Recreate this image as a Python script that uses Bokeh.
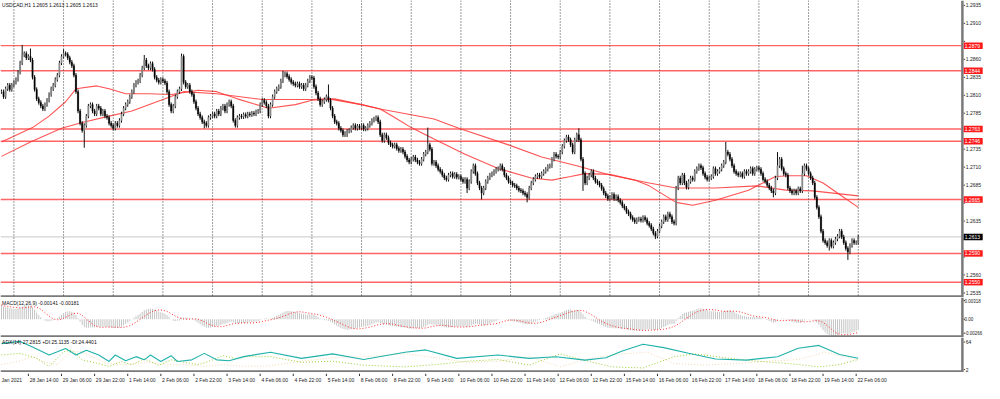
import numpy as np
from bokeh.plotting import figure
from bokeh.layouts import column
from bokeh.models import Range1d, Span, ColumnDataSource
from bokeh.embed import file_html
from bokeh.resources import INLINE
from bokeh.core.properties import value

TITLE = "USDCAD,H1  1.2605 1.2613 1.2605 1.2613"
MACD_TITLE = "MACD(12,26,9) -0.00141 -0.00181"
ADX_TITLE = "ADX(14) 27.2815 +DI:25.1135 -DI:24.4401"

CLOSE = [
    1.2815, 1.2808, 1.2819, 1.2824, 1.2818, 1.2824, 1.2828, 1.2832, 1.2842, 1.2855,
    1.2866, 1.2868, 1.2862, 1.2864, 1.2859, 1.2835, 1.2818, 1.2805, 1.2800, 1.2795,
    1.2791, 1.2797, 1.2803, 1.2811, 1.2819, 1.2824, 1.2832, 1.2838, 1.2855, 1.2864,
    1.2868, 1.2867, 1.2862, 1.2856, 1.2851, 1.2838, 1.2815, 1.2788, 1.2771, 1.2761,
    1.2768, 1.2781, 1.2795, 1.2797, 1.2788, 1.2784, 1.2795, 1.2792, 1.2784, 1.2788,
    1.2781, 1.2779, 1.2771, 1.2768, 1.2764, 1.2771, 1.2768, 1.2775, 1.2784, 1.2792,
    1.2797, 1.2801, 1.2808, 1.2815, 1.2824, 1.2828, 1.2830, 1.2838, 1.2848, 1.2859,
    1.2851, 1.2848, 1.2854, 1.2846, 1.2835, 1.2831, 1.2828, 1.2832, 1.2830, 1.2827,
    1.2815, 1.2797, 1.2788, 1.2795, 1.2808, 1.2815, 1.2819, 1.2864, 1.2828, 1.2822,
    1.2824, 1.2815, 1.2811, 1.2801, 1.2792, 1.2784, 1.2779, 1.2773, 1.2771, 1.2768,
    1.2779, 1.2781, 1.2784, 1.2781, 1.2788,
    1.2784, 1.2792, 1.2795, 1.2788, 1.2797, 1.2801, 1.2795, 1.2775, 1.2768, 1.2779,
    1.2781, 1.2780, 1.2783, 1.2781, 1.2784, 1.2783, 1.2785, 1.2784, 1.2787, 1.2788,
    1.2797, 1.2803, 1.2800, 1.2795, 1.2781, 1.2797, 1.2808, 1.2815, 1.2819, 1.2822,
    1.2830, 1.2838, 1.2840, 1.2836, 1.2832, 1.2828, 1.2826, 1.2824, 1.2826, 1.2822,
    1.2824, 1.2819, 1.2824, 1.2830, 1.2835, 1.2834, 1.2822, 1.2813, 1.2805, 1.2797,
    1.2801, 1.2804, 1.2808, 1.2803, 1.2792, 1.2781, 1.2773, 1.2771, 1.2764, 1.2761,
    1.2755, 1.2757, 1.2760, 1.2761, 1.2765, 1.2768, 1.2764, 1.2767, 1.2765, 1.2768,
    1.2763, 1.2764, 1.2768, 1.2771, 1.2775, 1.2777, 1.2779, 1.2773, 1.2755, 1.2747,
    1.2755, 1.2751, 1.2744, 1.2741, 1.2739, 1.2741, 1.2736, 1.2733, 1.2735, 1.2731,
    1.2725, 1.2720, 1.2717, 1.2721, 1.2724, 1.2720, 1.2717, 1.2715, 1.2721, 1.2728,
    1.2731, 1.2741, 1.2735, 1.2715,
    1.2717, 1.2712, 1.2707, 1.2704, 1.2699, 1.2695, 1.2693, 1.2699, 1.2701, 1.2697,
    1.2700, 1.2696, 1.2697, 1.2693, 1.2690, 1.2693, 1.2681, 1.2690, 1.2704, 1.2712,
    1.2701, 1.2688, 1.2681, 1.2674, 1.2681, 1.2690, 1.2695, 1.2699, 1.2701, 1.2704,
    1.2707, 1.2708, 1.2712, 1.2707, 1.2699, 1.2695, 1.2690, 1.2688, 1.2685, 1.2684,
    1.2681, 1.2678, 1.2677, 1.2674, 1.2672, 1.2668, 1.2681, 1.2688, 1.2693, 1.2697,
    1.2699, 1.2697, 1.2701, 1.2704, 1.2707, 1.2711, 1.2712, 1.2721, 1.2728, 1.2725,
    1.2724, 1.2731, 1.2739, 1.2747, 1.2752, 1.2748, 1.2741, 1.2731, 1.2748, 1.2755,
    1.2748, 1.2721, 1.2701, 1.2688, 1.2695, 1.2699, 1.2704, 1.2695, 1.2690, 1.2688,
    1.2685, 1.2680, 1.2674, 1.2670, 1.2666, 1.2668, 1.2672, 1.2666, 1.2669, 1.2664,
    1.2661, 1.2656, 1.2653, 1.2648, 1.2645, 1.2640, 1.2637, 1.2634, 1.2637, 1.2638,
    1.2636, 1.2640, 1.2637, 1.2632, 1.2629,
    1.2624, 1.2618, 1.2614, 1.2621, 1.2628, 1.2634, 1.2641, 1.2637, 1.2645, 1.2641,
    1.2634, 1.2632, 1.2681, 1.2695, 1.2688, 1.2699, 1.2688, 1.2682, 1.2690, 1.2695,
    1.2693, 1.2704, 1.2708, 1.2712, 1.2709, 1.2701, 1.2696, 1.2693, 1.2695, 1.2697,
    1.2708, 1.2701, 1.2704, 1.2707, 1.2712, 1.2717, 1.2731, 1.2728, 1.2721, 1.2712,
    1.2704, 1.2701, 1.2699, 1.2701, 1.2697, 1.2704, 1.2701, 1.2704, 1.2708, 1.2701,
    1.2707, 1.2709, 1.2707, 1.2701, 1.2693, 1.2690, 1.2685, 1.2681, 1.2677, 1.2674,
    1.2695, 1.2712, 1.2721, 1.2708, 1.2701, 1.2699, 1.2681, 1.2677, 1.2674, 1.2677,
    1.2674, 1.2680, 1.2677, 1.2701, 1.2712, 1.2708, 1.2701, 1.2695, 1.2688, 1.2668,
    1.2654, 1.2641, 1.2621, 1.2608, 1.2605, 1.2601, 1.2608, 1.2600, 1.2605, 1.2610,
    1.2614, 1.2621, 1.2613, 1.2605, 1.2597, 1.2592, 1.2601, 1.2608, 1.2605, 1.2605,
    1.2613,
]
HIGH_SPIKES = {10: 1.2880, 14: 1.2875, 30: 1.2874, 69: 1.2866, 87: 1.2868, 136: 1.2844,
               158: 1.2825, 206: 1.2765, 279: 1.2764, 350: 1.2745, 375: 1.2731, 387: 1.2712}
LOW_SPIKES = {40: 1.2737, 98: 1.2764, 167: 1.2752, 225: 1.2674, 232: 1.2665, 254: 1.2661,
              281: 1.2677, 316: 1.2610, 373: 1.2668, 400: 1.2594, 409: 1.2581}
WICK = 0.0003

LEVELS = [1.2879, 1.2844, 1.2763, 1.2746, 1.2665, 1.2590, 1.2550]
LEVEL_TEXT = ["1.2879", "1.2844", "1.2763", "1.2746", "1.2665", "1.2590", "1.2550"]
BID = 1.2613
BID_TEXT = "1.2613"

PRICE_TICKS = [1.2935, 1.2910, 1.2885, 1.2860, 1.2835, 1.2810, 1.2785, 1.2760, 1.2735,
               1.2710, 1.2685, 1.2660, 1.2635, 1.2610, 1.2585, 1.2560, 1.2535]
PRICE_TICK_TEXT = ["1.2935", "1.2910", "", "1.2860", "1.2835", "1.2810", "1.2785", "", "1.2735",
                   "1.2710", "1.2685", "", "1.2635", "", "", "1.2560", "1.2535"]

MA_FAST_BAR = [0, 15, 23, 31, 36, 46, 52, 60, 71, 82, 95, 104, 114, 129, 142, 150, 161, 174, 183,
               190, 198, 209, 224, 240, 256, 266, 275, 282, 294, 306, 313, 326, 334, 345, 361,
               374, 381, 389, 397, 405, 414]
MA_FAST = [1.2745, 1.2765, 1.2781, 1.2801, 1.2819, 1.2823, 1.2819, 1.2812, 1.2812, 1.2811,
           1.2817, 1.2815, 1.2805, 1.2792, 1.2797, 1.2803, 1.2805, 1.2797, 1.2791, 1.2779,
           1.2765, 1.2749, 1.2728, 1.2708, 1.2695, 1.2692, 1.2697, 1.2701, 1.2700, 1.2692,
           1.2684, 1.2661, 1.2657, 1.2664, 1.2678, 1.2697, 1.2698, 1.2698, 1.2688, 1.2672,
           1.2654]
MA_SLOW_BAR = [0, 14, 29, 39, 52, 63, 79, 88, 104, 126, 150, 158, 174, 183, 198, 209, 221, 245,
               261, 278, 294, 313, 326, 345, 365, 379, 392, 414]
MA_SLOW = [1.2725, 1.2745, 1.2764, 1.2772, 1.2781, 1.2788, 1.2805, 1.2815, 1.2812, 1.2804,
           1.2804, 1.2805, 1.2797, 1.2791, 1.2783, 1.2777, 1.2764, 1.2741, 1.2724, 1.2712,
           1.2699, 1.2688, 1.2681, 1.2681, 1.2684, 1.2678, 1.2677, 1.2670]

MACD_START = 0.0021
MACD_TICKS = [0.00274, 0.0, -0.00203]
MACD_TICK_TEXT = ["0.00318", "0.00", "-0.00266"]

ADX_BAR = [0, 9, 15, 23, 31, 36, 41, 47, 52, 55, 60, 65, 69, 72, 77, 82, 85, 92, 98, 104, 110, 117,
           130, 145, 160, 175, 195, 205, 220, 240, 255, 268, 282, 292, 300, 310, 320, 332, 345,
           360, 375, 385, 395, 405, 414]
ADX = [53.2, 57.1, 47.3, 33.0, 44.5, 33.0, 41.6, 33.0, 21.5, 33.0, 22.7, 30.1, 24.4, 33.0, 21.5,
       31.8, 21.5, 24.4, 35.9, 24.4, 22.7, 30.1,
       38, 27, 35, 25, 38, 42, 27, 33, 27, 30, 24, 28, 40, 52, 46, 36, 26, 24, 30, 45, 50, 34, 27.3]
PDI_BAR = [0, 9, 17, 23, 30, 34, 39, 46, 52, 58, 63, 69, 76, 82, 88, 95, 101, 107, 114, 118,
           130, 145, 160, 175, 195, 210, 225, 240, 255, 270, 280, 295, 310, 325, 335, 350, 365,
           380, 395, 405, 414]
PDI = [33.0, 35.9, 27.3, 12.9, 38.7, 41.6, 24.4, 18.7, 12.9, 21.5, 15.8, 26.1, 14.6, 24.4, 20.4,
       15.8, 22.7, 31.8, 26.1, 30.1,
       30, 20, 22, 15, 12, 16, 22, 25, 15, 35, 25, 12, 10, 30, 35, 28, 22, 18, 12, 16, 25.1]
MDI_BAR = [0, 8, 15, 20, 27, 33, 39, 44, 50, 60, 71, 79, 88, 98, 107, 118,
           130, 145, 160, 175, 195, 210, 225, 240, 255, 270, 285, 300, 312, 325, 340, 355, 370,
           385, 398, 405, 414]
MDI = [15.8, 21.5, 30.1, 21.5, 15.8, 38.7, 38.7, 30.1, 18.7, 15.8, 20.4, 15.8, 15.8, 12.9, 15.8,
       12.9,
       14, 22, 28, 30, 35, 28, 20, 22, 30, 12, 28, 35, 38, 18, 15, 18, 22, 25, 38, 32, 24.4]
ADX_TICKS = [56.0, 7.2]
ADX_TICK_TEXT = ["64", "2"]

TIME_TEXT = ["28 Jan 14:00", "29 Jan 06:00", "29 Jan 22:00", "1 Feb 14:00", "2 Feb 06:00",
             "2 Feb 22:00", "3 Feb 14:00", "4 Feb 06:00", "4 Feb 22:00", "5 Feb 14:00",
             "8 Feb 06:00", "8 Feb 22:00", "9 Feb 14:00", "10 Feb 06:00", "10 Feb 22:00",
             "11 Feb 14:00", "12 Feb 06:00", "12 Feb 22:00", "15 Feb 14:00", "16 Feb 06:00",
             "16 Feb 22:00", "17 Feb 14:00", "18 Feb 06:00", "18 Feb 22:00", "19 Feb 14:00",
             "22 Feb 06:00"]
TIME_BAR = [13, 29, 45, 61, 77, 93, 109, 125, 141, 157, 173, 189, 205, 221, 237, 253, 269, 285,
            301, 317, 333, 349, 365, 381, 397, 413]
FIRST_DATE = "Jan 2021"
GRID_BAR = [6, 30, 54, 78, 102, 126, 150, 174, 198, 222, 246, 270, 294, 318, 342, 366, 390, 414]

# ---------------------------------------------------------------- derived
close = np.array(CLOSE)
n = len(close)
idx = np.arange(n)
opn = np.r_[close[0], close[:-1]]
hi = np.maximum(opn, close) + WICK
lo = np.minimum(opn, close) - WICK
for k, v in HIGH_SPIKES.items():
    hi[k] = max(hi[k], v)
for k, v in LOW_SPIKES.items():
    lo[k] = min(lo[k], v)
up = close >= opn

ema12 = np.zeros(n)
ema26 = np.zeros(n)
ema12[0] = close[0]
ema26[0] = close[0] - MACD_START
for i in range(1, n):
    ema12[i] = ema12[i - 1] + (2 / 13) * (close[i] - ema12[i - 1])
    ema26[i] = ema26[i - 1] + (2 / 27) * (close[i] - ema26[i - 1])
macd = ema12 - ema26
signal = np.array([macd[max(0, i - 8):i + 1].mean() for i in range(n)])

FONT = "Liberation Sans"
FS = "5px"
TOTAL_W = 984
X0 = -0.475
AXIS_X = 463.9
PXB = 961 / (AXIS_X - X0)            # pixels per bar
XEND = X0 + TOTAL_W / PXB
xr = Range1d(X0, XEND)
GRAY = "#7a7a7a"


def panel(h, y0, y1):
    yr = Range1d(y0, y1)
    p = figure(frame_width=TOTAL_W, frame_height=h, x_range=xr, y_range=yr,
               output_backend="svg", toolbar_location=None, x_axis_location=None,
               y_axis_location=None, min_border=0, background_fill_color="white",
               border_fill_color="white")
    p.outline_line_color = None
    p.xgrid.visible = False
    p.ygrid.visible = False
    return p


def price_axis(p, ticks, texts, y0, h, fs=FS, text_off=4.3):
    """right-hand value scale in MT4 style, next to the chart area"""
    upx = (p.y_range.end - p.y_range.start) / h
    p.segment(x0=[X0], x1=[AXIS_X + 1.5 / PXB], y0=[y0 + 1.0 * upx], y1=[y0 + 1.0 * upx],
              line_color=GRAY, line_width=2.5)
    p.segment(x0=[AXIS_X + 0.9 / PXB], x1=[AXIS_X + 0.9 / PXB],
              y0=[p.y_range.start], y1=[p.y_range.end], line_color=GRAY, line_width=2.5)
    p.segment(x0=[AXIS_X + 2.2 / PXB] * len(ticks), x1=[AXIS_X + 3.6 / PXB] * len(ticks),
              y0=ticks, y1=ticks, line_color="#444444", line_width=1)
    tt = [(t, s) for t, s in zip(ticks, texts) if s]
    p.text(x=[AXIS_X + text_off / PXB] * len(tt), y=[t for t, _ in tt], text=[s for _, s in tt],
           text_font=value(FONT), text_font_size=value(fs), text_baseline="middle",
           text_align="left", text_color="#222222")


# ---------------------------------------------------------------- main price panel
MH = 297
pm = panel(MH, 1.25287, 1.29418)
for g in GRID_BAR:
    pm.add_layout(Span(location=g, dimension="height", line_color="#3a3a3a", line_width=1,
                       line_dash="1 2"))
pm.segment(x0=[X0], x1=[AXIS_X], y0=[BID], y1=[BID], line_color="#c8c8c8", line_width=1)
pm.segment(x0=[X0] * len(LEVELS), x1=[AXIS_X] * len(LEVELS), y0=LEVELS, y1=LEVELS,
           line_color="#ff4a4a", line_width=1.4, line_alpha=0.85)
pm.line(MA_SLOW_BAR, MA_SLOW, line_color="#ff3535", line_width=1.1, line_alpha=0.85)
pm.line(MA_FAST_BAR, MA_FAST, line_color="#ff3535", line_width=1.1, line_alpha=0.85)

src = ColumnDataSource(dict(x=idx, hi=hi, lo=lo, top=np.maximum(opn, close),
                            bot=np.minimum(opn, close),
                            col=np.where(up, "#8a8a8a", "#000000")))
pm.segment(x0="x", y0="hi", x1="x", y1="lo", source=src, line_color="#111111", line_width=1)
pm.vbar(x="x", top="top", bottom="bot", width=0.62, source=src, fill_color="col",
        line_color="col", line_width=0.4)

pm.text(x=[0.3], y=[1.29395], text=[TITLE], text_font=value(FONT), text_font_size=value(FS),
        text_baseline="top", text_align="left", text_color="#111111")

price_axis(pm, PRICE_TICKS, PRICE_TICK_TEXT, 1.25287, MH)
tag_x = AXIS_X + (2.2 + 9.5) / PXB
pm.rect(x=[tag_x] * len(LEVELS), y=LEVELS, width=19, height=6.5, width_units="screen",
        height_units="screen", fill_color="#ff1a1a", line_color=None)
pm.text(x=[AXIS_X + 3.2 / PXB] * len(LEVELS), y=LEVELS, text=LEVEL_TEXT, text_font=value(FONT),
        text_font_size=value(FS), text_baseline="middle", text_align="left", text_color="white")
pm.rect(x=[tag_x], y=[BID], width=19, height=6.5, width_units="screen", height_units="screen",
        fill_color="#000000", line_color=None)
pm.text(x=[AXIS_X + 3.2 / PXB], y=[BID], text=[BID_TEXT], text_font=value(FONT),
        text_font_size=value(FS), text_baseline="middle", text_align="left", text_color="white")

# ---------------------------------------------------------------- MACD panel
CH = 40
pmacd = panel(CH, -0.00266, 0.00318)
pmacd.segment(x0=idx, y0=np.zeros(n), x1=idx, y1=macd, line_color="#c4c4c4", line_width=1)
pmacd.line(idx, signal, line_color="#ff2a2a", line_width=1, line_dash="1 2")
pmacd.text(x=[0.3], y=[0.00245], text=[MACD_TITLE], text_font=value(FONT),
           text_font_size=value(FS), text_baseline="middle", text_align="left",
           text_color="#111111")
price_axis(pmacd, MACD_TICKS, MACD_TICK_TEXT, -0.00266, CH, fs="4.5px", text_off=3.0)

# ---------------------------------------------------------------- ADX panel
DH = 35
padx = panel(DH, 2, 64)
padx.line(MDI_BAR, MDI, line_color="#f3d7b0", line_width=1, line_dash="1 2")
padx.line(PDI_BAR, PDI, line_color="#9acd32", line_width=1, line_dash="1 2")
padx.line(ADX_BAR, ADX, line_color="#20b2aa", line_width=1.1)
padx.text(x=[0.3], y=[55.5], text=[ADX_TITLE], text_font=value(FONT),
          text_font_size=value(FS), text_baseline="middle", text_align="left",
          text_color="#111111")
price_axis(padx, ADX_TICKS, ADX_TICK_TEXT, 2, DH)

# ---------------------------------------------------------------- time strip
pt = panel(11, 0, 11)
pt.segment(x0=TIME_BAR, y0=[11] * len(TIME_BAR), x1=TIME_BAR, y1=[8.5] * len(TIME_BAR),
           line_color="#333333", line_width=1)
pt.text(x=[b + 0.6 for b in TIME_BAR], y=[5.0] * len(TIME_BAR), text=TIME_TEXT,
        text_font=value(FONT), text_font_size=value(FS), text_baseline="middle",
        text_align="left", text_color="#222222")
pt.text(x=[0.0], y=[5.0], text=[FIRST_DATE], text_font=value(FONT), text_font_size=value(FS),
        text_baseline="middle", text_align="left", text_color="#222222")

layout = column(pm, pmacd, padx, pt, spacing=0)
open("out.html", "w").write(file_html(layout, INLINE))
